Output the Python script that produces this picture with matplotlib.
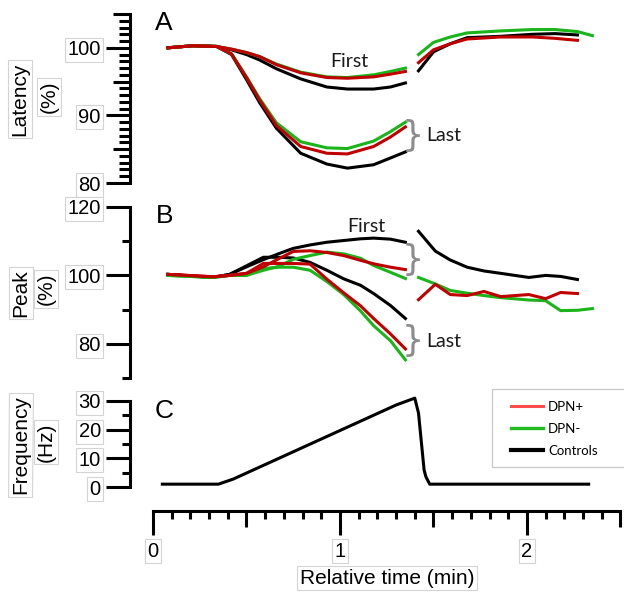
import matplotlib.pyplot as plt
from matplotlib.lines import Line2D
from matplotlib.patches import Rectangle
from matplotlib.ticker import FixedLocator

# ---- data -------------------------------------------------------------
# panel A (latency %), before and after the stimulation gap
t_lat_pre = [0.08, 0.21, 0.34, 0.42, 0.50, 0.57, 0.66, 0.79, 0.93, 1.04, 1.18, 1.27, 1.35]
lat_first_ctrl = [100, 100.3, 100.2, 99.7, 99.0, 98.2, 96.9, 95.4, 94.2, 93.9, 93.9, 94.2, 94.8]
lat_first_neg = [100, 100.3, 100.2, 99.8, 99.3, 98.7, 97.6, 96.4, 95.7, 95.6, 96.0, 96.5, 97.0]
lat_first_pos = [100, 100.3, 100.2, 99.8, 99.3, 98.7, 97.5, 96.3, 95.6, 95.5, 95.7, 96.1, 96.5]
lat_last_ctrl = [100, 100.3, 100.2, 99.0, 95.3, 91.9, 88.1, 84.4, 82.8, 82.2, 82.7, 83.7, 84.6]
lat_last_neg = [100, 100.3, 100.2, 99.1, 95.7, 92.5, 88.9, 86.1, 85.2, 85.1, 86.2, 87.6, 89.0]
lat_last_pos = [100, 100.3, 100.2, 99.1, 95.6, 92.3, 88.5, 85.4, 84.4, 84.3, 85.4, 86.8, 88.3]

t_lat_post = [1.42, 1.50, 1.59, 1.68, 1.86, 2.03, 2.15, 2.27]
t_lat_post_neg = [1.42, 1.50, 1.59, 1.68, 1.86, 2.03, 2.15, 2.27, 2.35]
lat_post_ctrl = [96.6, 99.4, 100.6, 101.5, 101.7, 102.0, 102.1, 101.9]
lat_post_neg = [99.0, 100.8, 101.6, 102.2, 102.5, 102.7, 102.7, 102.4, 101.8]
lat_post_pos = [97.8, 99.7, 100.6, 101.3, 101.6, 101.6, 101.4, 101.1]

# panel B (peak %)
t_pk_pre = [0.08, 0.32, 0.41, 0.50, 0.59, 0.67, 0.75, 0.84, 0.93, 1.02, 1.11, 1.18, 1.27, 1.35]
pk_first_ctrl = [100.3, 99.4, 100.3, 102.5, 104.6, 106.3, 107.9, 108.9, 109.7, 110.2, 110.7, 110.9, 110.6, 109.7]
pk_first_neg = [100.0, 99.4, 100.0, 100.0, 101.5, 102.6, 104.7, 105.8, 106.8, 106.3, 105.0, 102.9, 100.9, 99.1]
pk_first_pos = [100.3, 99.6, 100.0, 100.6, 102.5, 104.8, 107.0, 107.2, 106.7, 105.8, 104.4, 103.4, 102.4, 101.7]
pk_last_ctrl = [100.3, 99.4, 100.3, 102.8, 105.3, 105.3, 105.1, 103.8, 101.5, 99.0, 97.1, 94.7, 91.2, 87.4]
pk_last_neg = [100.0, 99.4, 100.0, 100.0, 102.0, 102.4, 102.4, 101.5, 98.2, 94.4, 89.6, 85.3, 80.9, 75.3]
pk_last_pos = [100.3, 99.6, 100.0, 100.6, 103.5, 103.5, 103.5, 103.3, 98.9, 94.9, 91.1, 87.4, 82.9, 78.5]

t_pk_post = [1.42, 1.51, 1.59, 1.68, 1.77, 1.86, 2.01, 2.10, 2.18, 2.27]
t_pk_post_neg = [1.42, 1.51, 1.59, 1.68, 1.77, 1.86, 2.01, 2.10, 2.18, 2.27, 2.35]
pk_post_ctrl = [112.9, 107.1, 104.5, 102.4, 101.3, 100.6, 99.4, 100.0, 99.7, 98.8]
pk_post_neg = [99.4, 97.5, 95.6, 94.8, 94.1, 93.5, 92.8, 92.6, 89.7, 89.8, 90.3]
pk_post_pos = [92.9, 97.4, 94.4, 94.1, 95.3, 93.8, 94.4, 93.2, 95.0, 94.7]

# panel C (stimulation frequency, Hz)
t_freq = [0.05, 0.35, 0.43, 1.30, 1.40, 1.42, 1.45, 1.46, 1.48, 2.33]
freq = [1, 1, 2.8, 28.6, 31, 25.8, 5.9, 3.5, 1, 1]

groups = ["DPN+", "DPN-", "Controls"]

# ---- styling ----------------------------------------------------------
RED, GREEN, BLACK = "#c00000", "#19b519", "#000000"
LEG_COLORS = ["#ff4d4d", "#22bb22", "#000000"]
AX_FONT = "Liberation Sans"
NOTE_FONT = "Lato"
BOX = dict(boxstyle="square,pad=0.12", facecolor="white", edgecolor="#d4d4d4", linewidth=0.8)
LW = 2.2

W, H = 624, 595
fig = plt.figure(figsize=(W / 100, H / 100), dpi=100)


def box(l, t, r, b):
    return [l / W, 1 - b / H, (r - l) / W, (b - t) / H]


axA = fig.add_axes(box(130, 14, 621, 183))
axB = fig.add_axes(box(130, 207, 621, 378))
axC = fig.add_axes(box(130, 401, 621, 511))

XLIM = (-0.123, 2.503)
for ax in (axA, axB, axC):
    ax.set_xlim(*XLIM)
    for s in ("top", "right"):
        ax.spines[s].set_visible(False)
    ax.spines["left"].set_linewidth(2.2)
    ax.tick_params(axis="y", which="major", length=17, width=2.2, pad=4, labelsize=14.5)
    ax.tick_params(axis="y", which="minor", length=6, width=2.2)
for ax in (axA, axB):
    ax.spines["bottom"].set_visible(False)
    ax.set_xticks([])

# panel A
axA.plot(t_lat_pre, lat_first_ctrl, color=BLACK, lw=LW)
axA.plot(t_lat_pre, lat_last_ctrl, color=BLACK, lw=LW)
axA.plot(t_lat_post, lat_post_ctrl, color=BLACK, lw=LW)
axA.plot(t_lat_pre, lat_first_neg, color=GREEN, lw=LW)
axA.plot(t_lat_pre, lat_last_neg, color=GREEN, lw=LW)
axA.plot(t_lat_post_neg, lat_post_neg, color=GREEN, lw=LW)
axA.plot(t_lat_pre, lat_first_pos, color=RED, lw=LW)
axA.plot(t_lat_pre, lat_last_pos, color=RED, lw=LW)
axA.plot(t_lat_post, lat_post_pos, color=RED, lw=LW)
axA.set_ylim(80, 105)
axA.set_yticks([80, 90, 100])
axA.yaxis.set_minor_locator(FixedLocator([v for v in range(80, 106) if v % 5]))
axA.tick_params(axis="y", which="minor", length=8)
secA = axA.secondary_yaxis("left")
secA.set_yticks([85, 95, 105], labels=[])
secA.tick_params(axis="y", length=12, width=2.2)
secA.spines["left"].set_visible(False)

# panel B
axB.plot(t_pk_pre, pk_first_ctrl, color=BLACK, lw=LW)
axB.plot(t_pk_pre, pk_last_ctrl, color=BLACK, lw=LW)
axB.plot(t_pk_post, pk_post_ctrl, color=BLACK, lw=LW)
axB.plot(t_pk_pre, pk_first_neg, color=GREEN, lw=LW)
axB.plot(t_pk_pre, pk_last_neg, color=GREEN, lw=LW)
axB.plot(t_pk_post_neg, pk_post_neg, color=GREEN, lw=LW)
axB.plot(t_pk_pre, pk_first_pos, color=RED, lw=LW)
axB.plot(t_pk_pre, pk_last_pos, color=RED, lw=LW)
axB.plot(t_pk_post, pk_post_pos, color=RED, lw=LW)
axB.set_ylim(70, 120)
axB.set_yticks([80, 100, 120])
axB.yaxis.set_minor_locator(FixedLocator([70, 90, 110]))

# panel C
axC.plot(t_freq, freq, color=BLACK, lw=LW, clip_on=False)
axC.set_ylim(-8.36, 30)
axC.spines["left"].set_bounds(0, 30)
axC.set_yticks([0, 10, 20, 30])
axC.yaxis.set_minor_locator(FixedLocator([5, 15, 25]))
axC.spines["bottom"].set_bounds(0, 2.5)
axC.spines["bottom"].set_linewidth(2.2)
axC.set_xticks([0, 1, 2])
axC.xaxis.set_minor_locator(FixedLocator([i / 10 for i in range(26) if i % 5]))
axC.tick_params(axis="x", which="major", length=17, width=2.2, pad=5, labelsize=14.5)
axC.tick_params(axis="x", which="minor", length=6, width=2.2)
secC = axC.secondary_xaxis("bottom")
secC.set_xticks([0.5, 1.5, 2.5], labels=[])
secC.tick_params(axis="x", length=11.5, width=2.2)
secC.spines["bottom"].set_visible(False)

for ax in (axA, axB, axC):
    for lbl in ax.get_yticklabels() + ax.get_xticklabels():
        lbl.set_fontfamily(AX_FONT)
        lbl.set_bbox(BOX)

# annotations
note = dict(fontfamily=NOTE_FONT, fontsize=14, color="#1a1a1a", va="center", clip_on=False)
brace = dict(fontfamily="DejaVu Sans", fontsize=25, color="#8c8c8c", ha="center", va="center",
             clip_on=False)
axA.text(1.05, 97.9, "First", ha="center", **note)
axA.text(1.46, 87.0, "Last", ha="left", **note)
axA.text(1.39, 87.0, "}", **brace)
axB.text(1.14, 114.4, "First", ha="center", **note)
axB.text(1.46, 80.6, "Last", ha="left", **note)
axB.text(1.39, 104.4, "}", **brace)
axB.text(1.39, 80.9, "}", **brace)


def ftext(x, y, s, **kw):
    fig.text(x / W, 1 - y / H, s, ha="center", va="center", fontfamily=AX_FONT, **kw)


for x, y, s in [(164, 23, "A"), (165, 216, "B"), (164, 411, "C")]:
    ftext(x, y, s, fontsize=19)

ylab = dict(fontsize=15, rotation=90, bbox=BOX)
ftext(20, 99, "Latency", **ylab)
ftext(49, 97, "(%)", **ylab)
ftext(21, 293, "Peak", **ylab)
ftext(46, 289, "(%)", **ylab)
ftext(20.5, 445, "Frequency", **ylab)
ftext(46, 442, "(Hz)", **ylab)
ftext(387, 578, "Relative time (min)", fontsize=15, bbox=BOX)

# legend
fig.patches.append(Rectangle((492 / W, 1 - 467 / H), 140 / W, 78 / H, transform=fig.transFigure,
                             facecolor="white", edgecolor="#c8c8c8", linewidth=0.9, zorder=0))
handles = [Line2D([], [], color=c, lw=lw) for c, lw in zip(LEG_COLORS, [2.2, 2.4, 3.0])]
leg = fig.legend(handles, groups, loc="upper left", bbox_to_anchor=(511 / W, 1 - 401 / H),
                 frameon=False, borderpad=0, borderaxespad=0, handlelength=2.4,
                 handletextpad=0.4, labelspacing=0.75, prop={"family": NOTE_FONT, "size": 9.5})

fig.savefig("out.png", dpi=100)
